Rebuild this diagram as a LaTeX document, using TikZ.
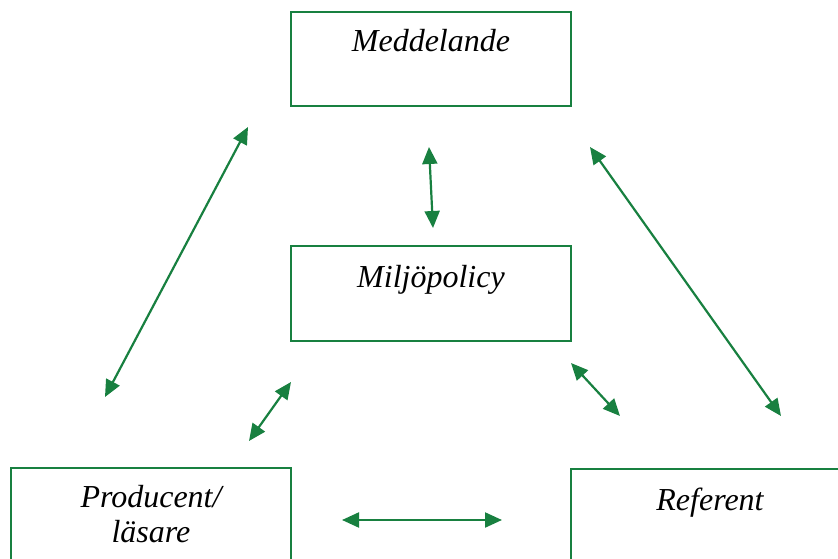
\documentclass[tikz,border=0pt]{standalone}
\usepackage{fontspec}
\setmainfont{Liberation Serif}
\usetikzlibrary{arrows.meta}
\definecolor{grn}{RGB}{24,128,64}
\begin{document}
\begin{tikzpicture}[x=1pt,y=-1pt,
  box/.style={draw=grn,line width=1.7pt,fill=white},
  lbl/.style={font=\fontsize{32}{38}\selectfont\itshape,align=center,text=black},
  dbl/.style={draw=grn,line width=2.2pt,{Triangle[length=17pt,width=15pt]}-{Triangle[length=17pt,width=15pt]},fill=grn}]
\useasboundingbox (0,0) rectangle (838,559);
\clip (0,0) rectangle (838,559);
% boxes
\draw[box] (291,12) rectangle (571,106);
\draw[box] (291,246) rectangle (571,341);
\draw[box] (11,468) rectangle (291,580);
\draw[box] (571,469) rectangle (850,580);
% labels
\node[lbl,anchor=base] (med) at (431,52) {Meddelande};
\node[lbl,anchor=base] (mil) at (431,287) {Miljöpolicy};
\node[lbl,anchor=base] (prod) at (151,507) {Producent/};
\node[lbl,anchor=base] (las) at (151,542) {läsare};
\node[lbl,anchor=base] (ref) at (710,510) {Referent};
% arrow endpoints
\coordinate (a1) at (105,397);
\coordinate (b1) at (248,127);
\coordinate (a2) at (429,147);
\coordinate (b2) at (433,228);
\coordinate (a3) at (590,147);
\coordinate (b3) at (781,416);
\coordinate (a4) at (249,441);
\coordinate (b4) at (291,382);
\coordinate (a5) at (571,363);
\coordinate (b5) at (620,416);
\coordinate (a6) at (342,520);
\coordinate (b6) at (502,520);
\draw[dbl] (a1) -- (b1);
\draw[dbl] (a2) -- (b2);
\draw[dbl] (a3) -- (b3);
\draw[dbl] (a4) -- (b4);
\draw[dbl] (a5) -- (b5);
\draw[dbl] (a6) -- (b6);
\end{tikzpicture}
\end{document}
